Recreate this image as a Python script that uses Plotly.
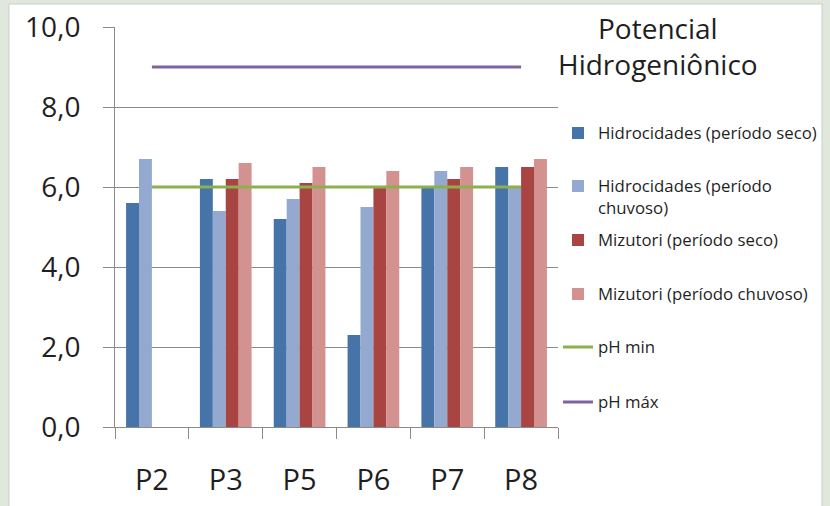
import plotly.graph_objects as go

categories = ["P2", "P3", "P5", "P6", "P7", "P8"]
hidro_seco = [5.6, 6.2, 5.2, 2.3, 6.0, 6.5]
hidro_chuvoso = [6.7, 5.4, 5.7, 5.5, 6.4, 6.0]
mizu_seco = [None, 6.2, 6.1, 6.0, 6.2, 6.5]
mizu_chuvoso = [None, 6.6, 6.5, 6.4, 6.5, 6.7]
ph_min = [6, 6, 6, 6, 6, 6]
ph_max = [9, 9, 9, 9, 9, 9]
y_ticks = [0, 2, 4, 6, 8, 10]

names = ["Hidrocidades (período seco)", "Hidrocidades (período<br>chuvoso)",
         "Mizutori (período seco)", "Mizutori (período chuvoso)", "pH min", "pH máx"]
bar_colors = ["#4674A8", "#94A9D0", "#A84543", "#D39190"]
line_colors = ["#8DB04E", "#7E62A1"]

W, H = 830, 506
L, R, T, B = 115, 558, 27, 427

def px_x(p):
    return (p - L) / (R - L)

def px_y(p):
    return (B - p) / (B - T)

legend_rows = [133, 197, 240, 294, 347, 402]
legend_names = ["legend", "legend2", "legend3", "legend4", "legend5", "legend6"]

fig = go.Figure()
for i, vals in enumerate([hidro_seco, hidro_chuvoso, mizu_seco, mizu_chuvoso]):
    fig.add_trace(go.Bar(x=categories, y=vals, name=names[i], marker_color=bar_colors[i],
                         marker_line_width=0, legend=legend_names[i]))
for j, vals in enumerate([ph_min, ph_max]):
    fig.add_trace(go.Scatter(x=categories, y=vals, name=names[4 + j], mode="lines",
                             line=dict(color=line_colors[j], width=3), legend=legend_names[4 + j]))

font_main = "Open Sans"
layout_legends = {}
for k, ln in enumerate(legend_names):
    layout_legends[ln] = dict(
        x=px_x(558), y=px_y(legend_rows[k]), xanchor="left", yanchor="middle",
        bgcolor="rgba(0,0,0,0)", borderwidth=0, valign="top",
        font=dict(family=font_main, size=16.8, color="#1F1F1F"),
        itemclick=False, itemdoubleclick=False,
    )

title_font = dict(family=font_main, size=28, color="#1F1F1F")
fig.update_layout(
    width=W, height=H,
    margin=dict(l=L, r=W - R, t=T, b=H - B, pad=0, autoexpand=False),
    paper_bgcolor="#E0E7DC",
    plot_bgcolor="rgba(0,0,0,0)",
    barmode="group", bargap=0.3, bargroupgap=0,
    separators=",.",
    showlegend=True,
    **layout_legends,
    shapes=[dict(type="rect", xref="paper", yref="paper",
                 x0=px_x(9), x1=px_x(822), y0=px_y(520), y1=px_y(4),
                 fillcolor="white", line=dict(color="#C9D0C5", width=1), layer="below")],
    annotations=[
        dict(text="Potencial<br>Hidrogeniônico", xref="paper", yref="paper",
             x=px_x(658), y=px_y(7), xanchor="center", yanchor="top", align="center",
             showarrow=False, font=title_font),
    ],
)
fig.update_yaxes(range=[0, 10], tickvals=y_ticks, tickformat=".1f",
                 showline=True, linecolor="#8A8A8A", linewidth=1,
                 showgrid=True, gridcolor="#8A8A8A", gridwidth=1, zeroline=False,
                 ticks="outside", ticklen=11, tickcolor="#8A8A8A",
                 ticklabelstandoff=17,
                 tickfont=dict(family=font_main, size=28, color="#1F1F1F"))
fig.update_xaxes(showline=True, linecolor="#8A8A8A", linewidth=1,
                 ticks="outside", ticklen=11, tickcolor="#8A8A8A", tickson="boundaries",
                 ticklabelstandoff=27,
                 tickfont=dict(family=font_main, size=29, color="#1F1F1F"))

fig.write_html("out.html", config={"displayModeBar": False},
               post_script="document.body.style.margin='0';document.body.style.padding='0';")
